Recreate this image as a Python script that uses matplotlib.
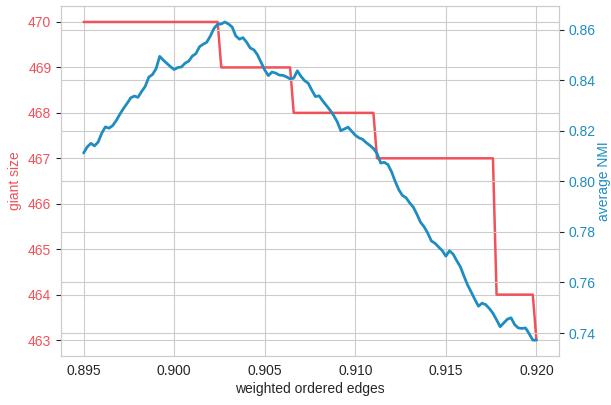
import numpy as np
import matplotlib
matplotlib.use("Agg")
import matplotlib.pyplot as plt
import seaborn as sns

# threshold sweep, step 0.0002
thresholds = np.round(np.arange(0.895, 0.92001, 0.0002), 4)

# giant component size: level held up to (and including) each threshold
size_levels = [470, 469, 468, 467, 464, 463]
size_last_x = [0.9024, 0.9064, 0.9110, 0.9176, 0.9198, 0.9200]

avg_nmi = [
    0.8112, 0.8136, 0.8150, 0.8140, 0.8155, 0.8190, 0.8215, 0.8210, 0.8220, 0.8240,
    0.8265, 0.8288, 0.8308, 0.8330, 0.8337, 0.8332, 0.8355, 0.8375, 0.8412, 0.8422,
    0.8445, 0.8494, 0.8479, 0.8466, 0.8453, 0.8442, 0.8450, 0.8452, 0.8467, 0.8475,
    0.8495, 0.8505, 0.8532, 0.8542, 0.8550, 0.8575, 0.8605, 0.8621, 0.8622, 0.8630,
    0.8622, 0.8610, 0.8575, 0.8562, 0.8568, 0.8550, 0.8527, 0.8520, 0.8500, 0.8470,
    0.8440, 0.8418, 0.8432, 0.8428, 0.8420, 0.8419, 0.8413, 0.8405, 0.8408, 0.8437,
    0.8415, 0.8398, 0.8388, 0.8360, 0.8335, 0.8338, 0.8318, 0.8300, 0.8282, 0.8261,
    0.8236, 0.8200, 0.8207, 0.8214, 0.8198, 0.8182, 0.8172, 0.8166, 0.8153, 0.8142,
    0.8130, 0.8110, 0.8072, 0.8075, 0.8066, 0.8038, 0.8000, 0.7967, 0.7944, 0.7935,
    0.7915, 0.7898, 0.7870, 0.7838, 0.7820, 0.7795, 0.7764, 0.7755, 0.7740, 0.7726,
    0.7704, 0.7725, 0.7712, 0.7686, 0.7662, 0.7625, 0.7590, 0.7562, 0.7533, 0.7506,
    0.7518, 0.7512, 0.7497, 0.7478, 0.7452, 0.7425, 0.7440, 0.7455, 0.7460, 0.7433,
    0.7420, 0.7418, 0.7420, 0.7397, 0.7372, 0.7372,
]

giant_size = np.array(size_levels)[np.searchsorted(size_last_x, thresholds - 1e-9)]

sns.set_style("whitegrid")
plt.rcParams["font.family"] = ["Liberation Sans", "DejaVu Sans"]

red = "#f0525a"
blue = "#1f8dbf"

fig, ax1 = plt.subplots(figsize=(6.11, 4.05), dpi=100)
fig.subplots_adjust(left=0.0998, right=0.915, bottom=0.121, top=0.985)

ax1.plot(thresholds, giant_size, color=red, lw=1.8)
ax1.set_xlabel("weighted ordered edges", color=".15", labelpad=3)
ax1.set_ylabel("giant size", color=red)
ax1.tick_params(axis="y", labelcolor=red)
ax1.tick_params(axis="x", labelcolor=".15", pad=2)

ax2 = ax1.twinx()
ax2.plot(thresholds, avg_nmi, color=blue, lw=2.0)
ax2.set_ylabel("average NMI", color=blue, labelpad=1)
ax2.tick_params(axis="y", labelcolor=blue)

fig.savefig("out.png", dpi=100)
